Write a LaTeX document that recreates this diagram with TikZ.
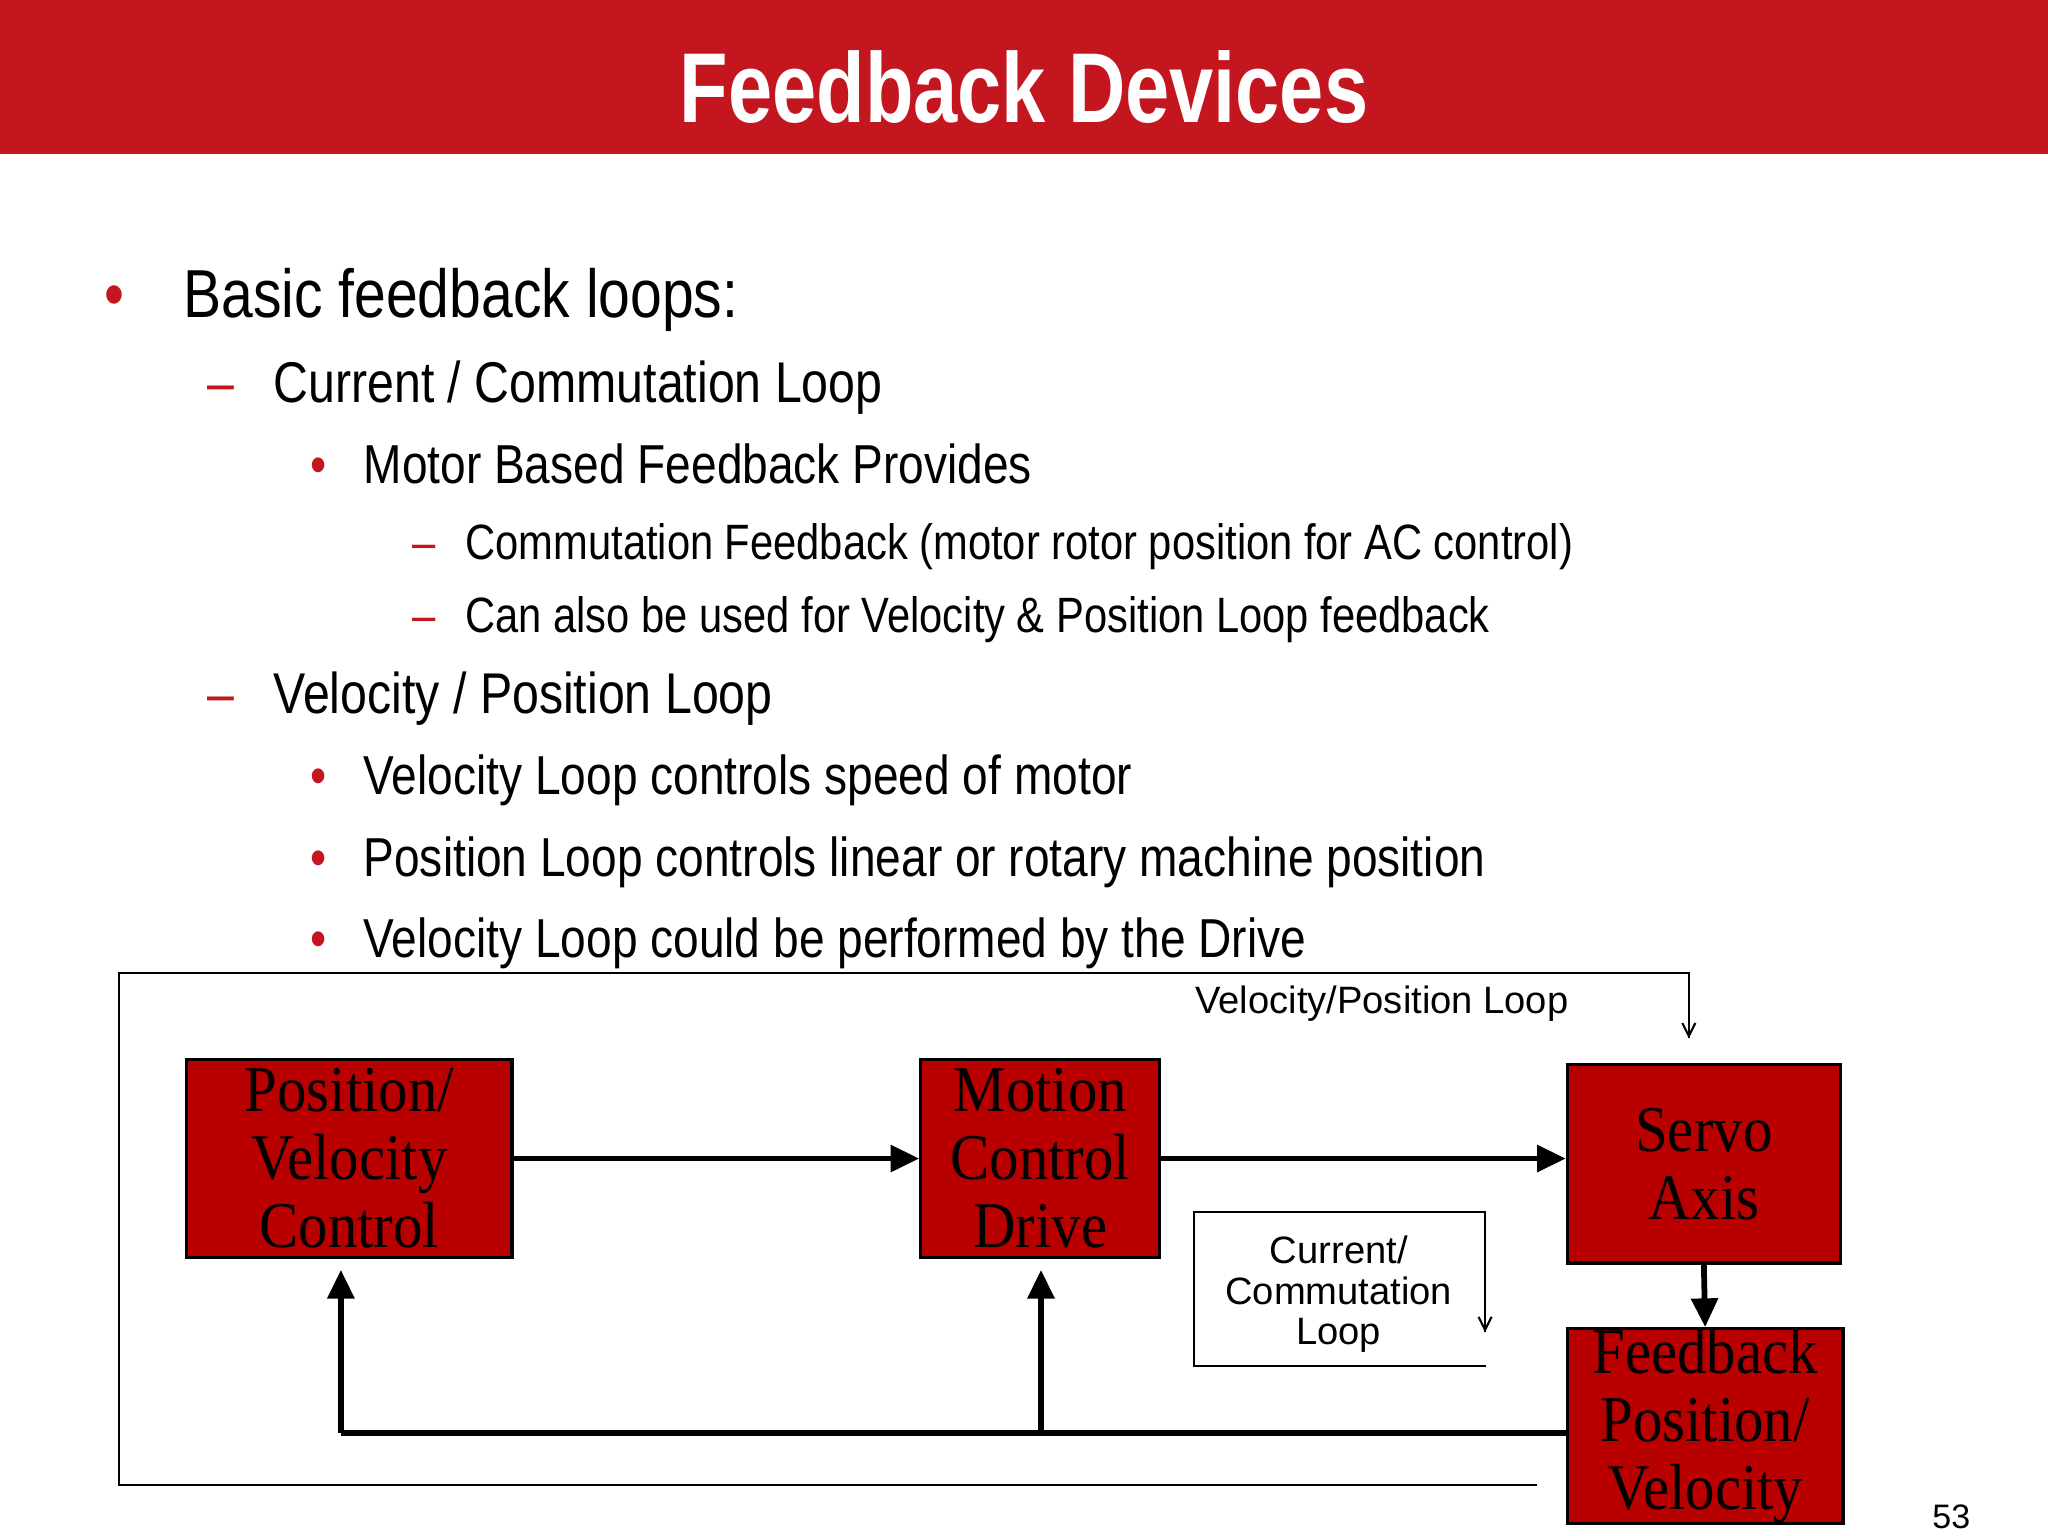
\documentclass[tikz,border=0pt]{standalone}
\usepackage{fontspec}
\setmainfont{Liberation Sans}
\newfontfamily\nar[FakeStretch=0.84]{Liberation Sans}
\newfontfamily\narb[FakeStretch=0.80]{Liberation Sans Bold}
\newfontfamily\tim[FakeStretch=0.9]{Liberation Serif}
\usetikzlibrary{arrows.meta}
\definecolor{bar}{HTML}{C3161E}
\definecolor{boxr}{HTML}{B80000}
\begin{document}
\begin{tikzpicture}[x=0.5pt,y=-0.5pt,
 blk/.style={draw=black,line width=1.2pt,fill=boxr,inner sep=0pt,font=\tim\fontsize{25}{26}\selectfont,align=center,text=black},
 thick arr/.style={line width=2.2pt,-{Triangle[length=11pt,width=10pt]}},
 thin arr/.style={line width=0.8pt,-{Straight Barb[length=5pt,width=5pt]}},
 lvl/.style={anchor=base west,inner sep=0pt},
 mk/.style={anchor=base,inner sep=0pt,text=bar}]
\useasboundingbox (0,0) rectangle (1568,1176);
\fill[white] (0,0) rectangle (1568,1176);
\fill[bar] (0,0) rectangle (1568,118);
\node[text=white,font=\narb\fontsize{38}{40}\selectfont,anchor=base] (title) at (784,94) {Feedback Devices};
% bullets
\node[mk,font=\nar\fontsize{26}{28}\selectfont] (b0) at (88,243) {•};
\node[lvl,font=\nar\fontsize{26}{28}\selectfont] (t0) at (140,243) {Basic feedback loops:};
\node[mk,font=\nar\fontsize{22}{24}\selectfont] (b1) at (169,308) {–};
\node[lvl,font=\nar\fontsize{22}{24}\selectfont] (t1) at (209,308) {Current / Commutation Loop};
\node[mk,font=\nar\fontsize{21}{24}\selectfont] (b2) at (244,370) {•};
\node[lvl,font=\nar\fontsize{21}{24}\selectfont] (t2) at (278,370) {Motor Based Feedback Provides};
\node[mk,font=\nar\fontsize{19}{22}\selectfont] (b3) at (325,428) {–};
\node[lvl,font=\nar\fontsize{19}{22}\selectfont] (t3) at (356,428) {Commutation Feedback (motor rotor position for AC control)};
\node[mk,font=\nar\fontsize{19}{22}\selectfont] (b4) at (325,484) {–};
\node[lvl,font=\nar\fontsize{19}{22}\selectfont] (t4) at (356,484) {Can also be used for Velocity \& Position Loop feedback};
\node[mk,font=\nar\fontsize{22}{24}\selectfont] (b5) at (169,546) {–};
\node[lvl,font=\nar\fontsize{22}{24}\selectfont] (t5) at (209,546) {Velocity / Position Loop};
\node[mk,font=\nar\fontsize{21}{24}\selectfont] (b6) at (244,608) {•};
\node[lvl,font=\nar\fontsize{21}{24}\selectfont] (t6) at (278,608) {Velocity Loop controls speed of motor};
\node[mk,font=\nar\fontsize{21}{24}\selectfont] (b7) at (244,671) {•};
\node[lvl,font=\nar\fontsize{21}{24}\selectfont] (t7) at (278,671) {Position Loop controls linear or rotary machine position};
\node[mk,font=\nar\fontsize{21}{24}\selectfont] (b8) at (244,733) {•};
\node[lvl,font=\nar\fontsize{21}{24}\selectfont] (t8) at (278,733) {Velocity Loop could be performed by the Drive};
% outer loop
\coordinate (o1) at (1177,1137);
\coordinate (o2) at (1293,795);
\draw[line width=0.9pt] (o1) -- (91,1137) -- (91,745) -- (1293,745) -- (o2);
\draw[thin arr] (1293,780) -- (o2);
\node[font=\fontsize{14.6}{16}\selectfont,anchor=base] (vpl) at (1058,776) {Velocity/Position Loop};
% current loop box
\coordinate (c1) at (1137,1020);
\coordinate (c2) at (1138,1046);
\draw[line width=0.9pt] (c2) -- (914,1046) -- (914,928) -- (1137,928) -- (c1);
\draw[thin arr] (1137,1000) -- (c1);
\node[font=\fontsize{14.6}{15.5}\selectfont,align=center] (ccl) at (1025,991) {Current/\\Commutation\\Loop};
% blocks
\node[blk,minimum width=249pt*0.5,minimum height=152pt*0.5] (pvc) at (267.5,887) {Position/\\Velocity\\Control};
\node[blk,minimum width=183pt*0.5,minimum height=152pt*0.5] (mcd) at (796.5,887) {Motion\\Control\\Drive};
\node[blk,minimum width=209pt*0.5,minimum height=152pt*0.5] (sa) at (1304.5,891) {Servo\\Axis};
\node[blk,minimum width=211pt*0.5,minimum height=146pt*0.5] (fb) at (1305.5,1092) {Feedback\\Position/\\Velocity};
\draw[thick arr] (pvc.east) -- (mcd.west);
\draw[thick arr] (mcd.east) -- (sa.west |- mcd.east);
\draw[thick arr] (sa.south) -- (fb.north);
\coordinate (j1) at (797,1097);
\draw[line width=2.2pt] (fb.west |- 0,1097) -- (261,1097);
\draw[thick arr] (261,1097) -- ([yshift=-4pt]pvc.south -| 261,0);
\draw[thick arr] (j1) -- ([yshift=-4pt]mcd.south -| 797,0);
\node[font=\fontsize{13}{14}\selectfont,anchor=base] (pg) at (1494,1170) {53};
\end{tikzpicture}
\end{document}
